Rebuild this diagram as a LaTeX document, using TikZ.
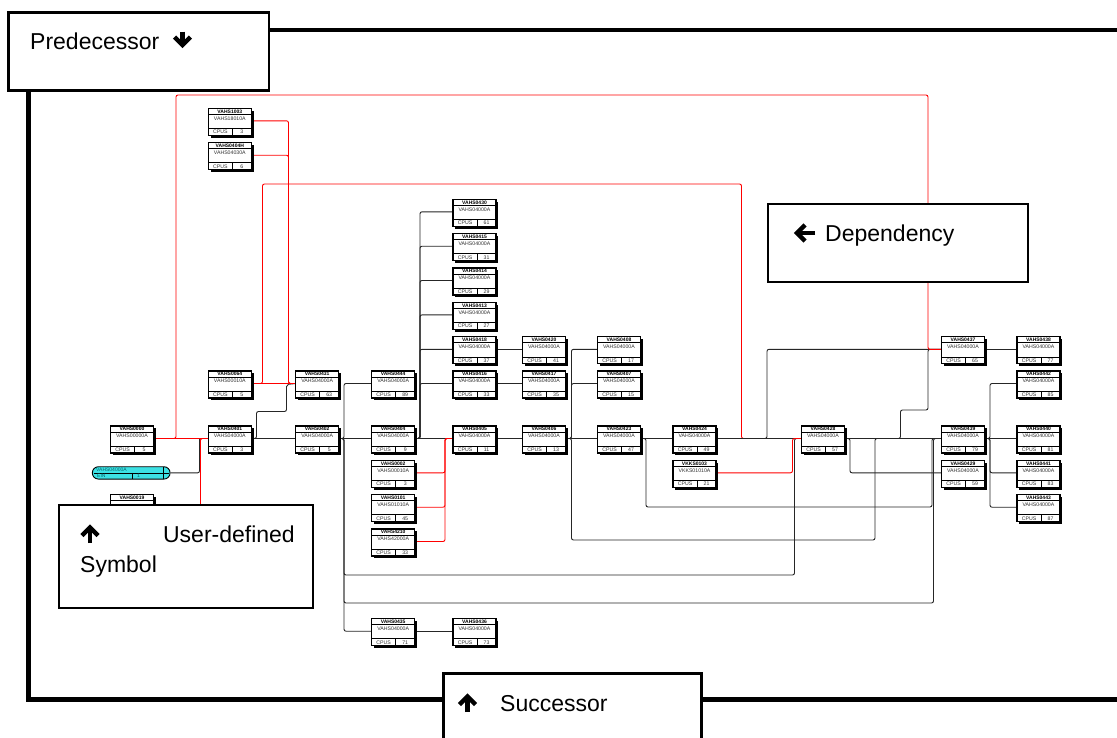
\documentclass[tikz,border=0pt]{standalone}
\usepackage{fontspec}
\setmainfont{Liberation Sans}
\pgfdeclarelayer{back}
\pgfdeclarelayer{bg}
\pgfsetlayers{back,bg,main}
\definecolor{pillc}{RGB}{60,225,228}
\definecolor{pillt}{RGB}{0,105,110}
\newcommand{\taskbox}[6]{%
 \fill[black] ({#2+2.4},{#3+2.4}) rectangle ({#2+45.4},{#3+29.4});
 \node[tb, anchor=north west] (#1) at (#2,#3) {};
 \draw[line width=0.6pt] ({#2},{#3+5.8}) -- ({#2+43},{#3+5.8});
 \draw[line width=0.6pt] ({#2},{#3+20}) -- ({#2+43},{#3+20});
 \draw[line width=0.6pt] ({#2+24},{#3+20}) -- ({#2+24},{#3+27});
 \node[nm] (#1-a) at ({#2+21.5},{#3+3.1}) {#4};
 \node[ty] (#1-b) at ({#2+21.5},{#3+10}) {#5};
 \node[ty] (#1-c) at ({#2+12},{#3+23.6}) {CPUS};
 \node[ty] (#1-d) at ({#2+33.5},{#3+23.6}) {#6};
 \coordinate (#1-in) at ({#2},{#3+12.5});
 \coordinate (#1-out) at ({#2+43},{#3+12.5});
}
\begin{document}
\begin{tikzpicture}[x=1pt,y=-1pt,
 tb/.style={draw=black, line width=1.1pt, fill=white, minimum width=43pt, minimum height=27pt, inner sep=0pt, outer sep=0pt},
 nm/.style={font=\fontsize{5}{5}\selectfont\bfseries, inner sep=0pt},
 ty/.style={font=\fontsize{5.2}{5.2}\selectfont, inner sep=0pt, text=black!80},
 con/.style={draw=black!85, line width=0.9pt, rounded corners=2pt},
 rcon/.style={draw=red, line width=0.9pt, rounded corners=2pt},
 frame/.style={line width=4.5pt, black},
 lbox/.style={draw=black, fill=white, line width=2.5pt, inner sep=0pt, anchor=north west},
 lbl/.style={font=\fontsize{23}{28}\selectfont, inner sep=0pt},
 arr/.style={line width=4.5pt, line join=miter, line cap=butt}]
\useasboundingbox (0,0) rectangle (1117,737);
\begin{pgfonlayer}{back}
\fill[white] (0,0) rectangle (1117,737);
\end{pgfonlayer}

% ---- task boxes ----
\taskbox{v1003}{208.3}{108.3}{VAHS1003}{VAHS18010A}{3}
\taskbox{v0404H}{208.3}{142.7}{VAHS0404H}{VAHS04030A}{6}
\taskbox{v0064}{208.3}{371}{VAHS0064}{VAHS00010A}{5}
\taskbox{v0431}{295.7}{371}{VAHS0431}{VAHS04000A}{63}
\taskbox{v0000}{110.5}{426}{VAHS0000}{VAHS00000A}{5}
\taskbox{v0401}{208.3}{426}{VAHS0401}{VAHS04000A}{3}
\taskbox{v0402}{295.7}{426}{VAHS0402}{VAHS04000A}{5}
\taskbox{v0444}{371.7}{371}{VAHS0444}{VAHS04000A}{89}
\taskbox{v0404}{371.7}{426}{VAHS0404}{VAHS04000A}{9}
\taskbox{v0002}{371.7}{460.3}{VAHS0002}{VAHS00010A}{3}
\taskbox{v0101}{371.7}{494.7}{VAHS0101}{VAHS01010A}{45}
\taskbox{v4210}{371.7}{529}{VAHS4210}{VAHS42000A}{33}
\taskbox{v0435}{371.7}{618.7}{VAHS0435}{VAHS04000A}{71}
\taskbox{v0430}{453}{199.3}{VAHS0430}{VAHS04000A}{61}
\taskbox{v0415}{453}{233.7}{VAHS0415}{VAHS04000A}{31}
\taskbox{v0414}{453}{268}{VAHS0414}{VAHS04000A}{29}
\taskbox{v0413}{453}{302.4}{VAHS0413}{VAHS04000A}{27}
\taskbox{v0418}{453}{336.8}{VAHS0418}{VAHS04000A}{37}
\taskbox{v0416}{453}{371}{VAHS0416}{VAHS04000A}{33}
\taskbox{v0405}{453}{426}{VAHS0405}{VAHS04000A}{11}
\taskbox{v0436}{453}{618.7}{VAHS0436}{VAHS04000A}{73}
\taskbox{v0420}{522.5}{336.8}{VAHS0420}{VAHS04000A}{41}
\taskbox{v0417}{522.5}{371}{VAHS0417}{VAHS04000A}{35}
\taskbox{v0406}{522.5}{426}{VAHS0406}{VAHS04000A}{13}
\taskbox{v0408}{597.5}{336.8}{VAHS0408}{VAHS04000A}{17}
\taskbox{v0407}{597.5}{371}{VAHS0407}{VAHS04000A}{15}
\taskbox{v0423}{597.5}{426}{VAHS0423}{VAHS04000A}{47}
\taskbox{v0424}{673}{426}{VAHS0424}{VAHS04000A}{49}
\taskbox{vK0103}{673}{460.3}{VKKS0103}{VKKS01010A}{21}
\taskbox{v0428}{801.5}{426}{VAHS0428}{VAHS04000A}{57}
\taskbox{v0437}{941.5}{336.8}{VAHS0437}{VAHS04000A}{65}
\taskbox{v0439}{941.5}{426}{VAHS0439}{VAHS04000A}{79}
\taskbox{v0429}{941.5}{460.3}{VAHS0429}{VAHS04000A}{59}
\taskbox{v0438}{1017}{336.8}{VAHS0438}{VAHS04000A}{77}
\taskbox{v0442}{1017}{371}{VAHS0442}{VAHS04000A}{85}
\taskbox{v0440}{1017}{426}{VAHS0440}{VAHS04000A}{81}
\taskbox{v0441}{1017}{460.3}{VAHS0441}{VAHS04000A}{83}
\taskbox{v0443}{1017}{494.7}{VAHS0443}{VAHS04000A}{87}

% partly hidden task VAHS0019
\fill[black] (112.9,497.1) rectangle (155.9,524.1);
\node[tb, anchor=north west] (v0019) at (110.5,494.7) {};
\draw[line width=0.6pt] (110.5,500.5) -- (153.5,500.5);
\node[nm] (v0019-a) at (132,497.8) {VAHS0019};
\coordinate (v0019-out) at (153.5,507.2);

% user-defined symbol (pill)
\node[draw=black, line width=0.9pt, fill=pillc, rounded corners=6pt, minimum width=77.7pt, minimum height=12.3pt, inner sep=0pt] (pill) at (131.2,472.9) {};
\draw[line width=0.5pt] (94,472.9) -- (168.5,472.9);
\draw[line width=0.5pt] (132.7,472.9) -- (132.7,479);
\draw[line width=0.5pt] (163.3,466.8) -- (163.3,479);
\node[font=\fontsize{5}{5}\selectfont, text=pillt, inner sep=0pt, anchor=west] (pill-a) at (96,469.8) {VAHS04000A};
\node[font=\fontsize{5}{5}\selectfont, text=pillt, inner sep=0pt, anchor=west] (pill-b) at (97,476) {EIN};
\node[font=\fontsize{5}{5}\selectfont, text=pillt, inner sep=0pt, anchor=west] (pill-c) at (137,476) {1};

% ---- connectors (below boxes) ----
\begin{pgfonlayer}{bg}
\draw[rcon] (v0064-out) -| (262.5,184) -| (741.5,438.5) -- (v0428-in);
% black
\draw[con] (pill.east) -| (199.5,441) |- (v0401-in);
\draw[con] (v0401-out) -- (v0402-in);
\draw[con] (v0401-out) -| (256.5,411.5) -| (286.5,384.5) -- (v0431-in);
\draw[con] (v0402-out) -- (v0404-in);
\draw[con] (v0402-out) -| (344,383.5) -- (v0444-in);
\draw[con] (v0402-out) -| (344,575) -| (794.5,438.5) -- (v0428-in);
\draw[con] (v0402-out) -| (344,603) -| (933.5,438.5) -- (v0439-in);
\draw[con] (v0402-out) -| (344,631.2) -- (v0435-in);
\draw[con] (v0435-out) -- (v0436-in);
\draw[con] (v0404-out) -- (v0405-in);
\draw[con] (v0404-out) -| (420,211.8) -- (v0430-in);
\draw[con] (v0404-out) -| (420,246.2) -- (v0415-in);
\draw[con] (v0404-out) -| (420,280.5) -- (v0414-in);
\draw[con] (v0404-out) -| (420,314.9) -- (v0413-in);
\draw[con] (v0404-out) -| (420,349.3) -- (v0418-in);
\draw[con] (v0404-out) -| (420,383.5) -- (v0416-in);
\draw[con] (v0418-out) -- (v0420-in);
\draw[con] (v0416-out) -- (v0417-in);
\draw[con] (v0405-out) -- (v0406-in);
\draw[con] (v0406-out) -| (571.5,349.3) -- (v0408-in);
\draw[con] (v0406-out) -| (571.5,383.5) -- (v0407-in);
\draw[con] (v0406-out) -- (v0423-in);
\draw[con] (v0406-out) -| (571.5,540) -| (875,438.5) -- (v0439-in);
\draw[con] (v0423-out) -- (v0424-in);
\draw[con] (v0423-out) -| (646,507) -| (932,438.5) -- (v0439-in);
\draw[con] (v0424-out) -- (v0428-in);
\draw[con] (v0424-out) -| (767,349.3) -- (v0437-in);
\draw[con] (v0428-out) -- (v0439-in);
\draw[con] (v0428-out) -| (850,472.8) -- (v0429-in);
\draw[con] (v0428-out) -| (900.5,410) -| (928,349.3) -- (v0437-in);
\draw[con] (v0437-out) -- (v0438-in);
\draw[con] (v0439-out) -- (v0440-in);
\draw[con] (v0439-out) -| (990,383.5) -- (v0442-in);
\draw[con] (v0439-out) -| (990,472.8) -- (v0441-in);
\draw[con] (v0439-out) -| (990,507.2) -- (v0443-in);
% red
\draw[rcon] (v0000-out) -- (v0401-in);
\draw[rcon] (v0000-out) -| (176,95) -| (928,349.3) -- (v0437-in);
\draw[rcon] (v0019-out) -| (200.5,438.5) -- (v0401-in);
\draw[rcon] (v1003-out) -| (288.5,383.5) -- (v0431-in);
\draw[rcon] (v0404H-out) -| (288.5,383.5) -- (v0431-in);
\draw[rcon] (v0064-out) -- (v0431-in);
\draw[rcon] (vK0103-out) -| (792.5,438.5) -- (v0428-in);
\draw[rcon] (v0002-out) -| (445,438.5) -- (v0405-in);
\draw[rcon] (v0101-out) -| (445,438.5) -- (v0405-in);
\draw[rcon] (v4210-out) -| (445,438.5) -- (v0405-in);
\end{pgfonlayer}

% ---- frame ----
\draw[frame] (1117,30) -- (28.3,30) -- (28.3,699.5) -- (1117,699.5);

% ---- label boxes ----
\node[lbox, minimum width=260.4pt, minimum height=78.3pt] (pred) at (7.3,11) {};
\node[lbl, anchor=base west] (predt) at (30,49.5) {Predecessor};
\draw[arr] (182.5,31.5) -- (182.5,44);
\draw[arr] (174.5,37) -- (182.5,45) -- (190.5,37);

\node[lbox, minimum width=260pt, minimum height=78pt, line width=2pt] (dep) at (767,203) {};
\draw[arr] (815,233) -- (798,233);
\draw[arr] (805,225) -- (797,233) -- (805,241);
\node[lbl, anchor=base west] (dept) at (825,241.5) {Dependency};

\node[lbox, minimum width=254.5pt, minimum height=103.5pt, line width=2pt] (uds) at (57.5,503.5) {};
\draw[arr] (90,543) -- (90,529);
\draw[arr] (82,535.5) -- (90,527.5) -- (98,535.5);
\node[lbl, anchor=base east] (udt1) at (295,542.5) {User-defined};
\node[lbl, anchor=base west] (udt2) at (80,572) {Symbol};

\node[lbox, minimum width=258pt, minimum height=75pt] (succ) at (442,672) {};
\draw[arr] (467.5,712) -- (467.5,698);
\draw[arr] (459.5,704.5) -- (467.5,696.5) -- (475.5,704.5);
\node[lbl, anchor=base west] (succt) at (500,711) {Successor};
\end{tikzpicture}
\end{document}
